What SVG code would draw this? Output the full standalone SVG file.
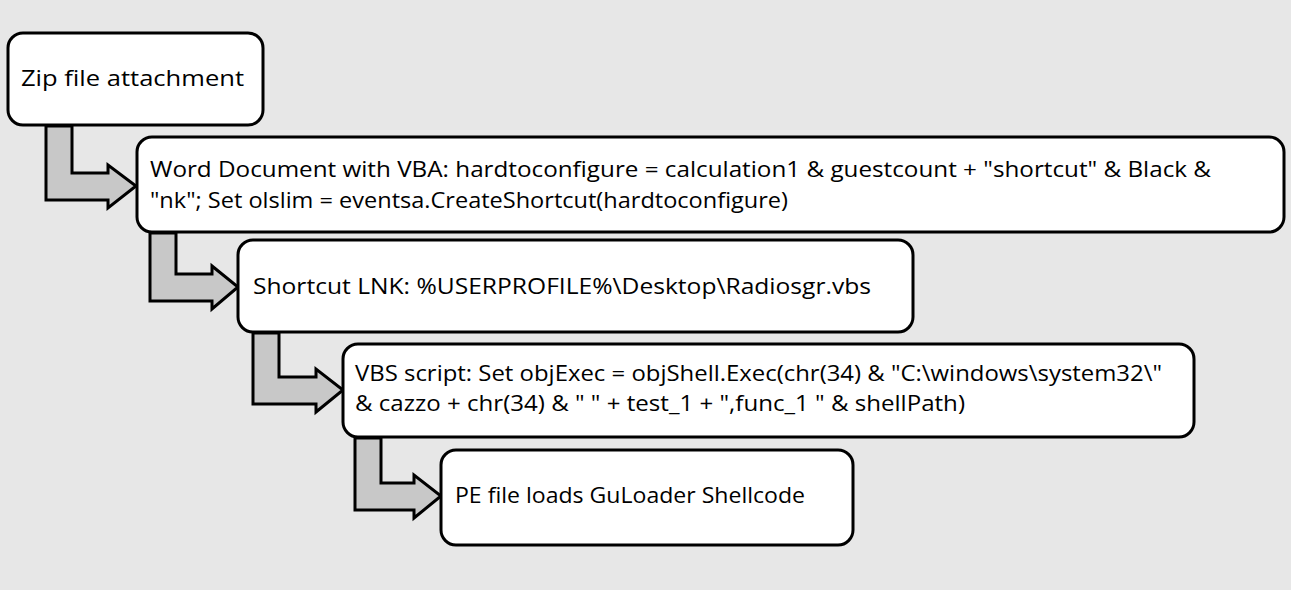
<svg xmlns="http://www.w3.org/2000/svg" width="1291" height="590" viewBox="0 0 1291 590">
<style>
.box{fill:#fff;stroke:#000;stroke-width:3}
.arr{fill:#c8c8c8;stroke:#000;stroke-width:3;stroke-linejoin:miter}
text{font-family:"Open Sans","Liberation Sans",sans-serif;font-size:22.5px;fill:#000}
.s{font-size:21px}
</style>
<rect width="1291" height="590" fill="#e7e7e7"/>
<g id="connectors">
<path class="arr" d="M46 126 H72 V173 H108 V165 L136 186 L108 208 V200 H46 Z"/>
<path class="arr" d="M150 233 H176 V274 H212 V266 L238 287 L212 309 V301 H150 Z"/>
<path class="arr" d="M253 333 H279 V377 H316 V369 L343 390 L316 412 V404 H253 Z"/>
<path class="arr" d="M355 438 H381 V483 H414 V475 L441 496 L414 518 V510 H355 Z"/>
</g>
<g id="n1"><rect class="box" x="8" y="33" width="255" height="92" rx="15"/><text x="21" y="86" textLength="223" lengthAdjust="spacingAndGlyphs">Zip file attachment</text></g>
<g id="n2"><rect class="box" x="137" y="137" width="1147" height="95" rx="15"/>
<text x="150" y="177" textLength="1061" lengthAdjust="spacingAndGlyphs">Word Document with VBA: hardtoconfigure = calculation1 &amp; guestcount + "shortcut" &amp; Black &amp;</text>
<text x="150" y="208" textLength="638" lengthAdjust="spacingAndGlyphs">"nk"; Set olslim = eventsa.CreateShortcut(hardtoconfigure)</text></g>
<g id="n3"><rect class="box" x="238" y="240" width="675" height="92" rx="15"/><text x="253" y="294" textLength="618" lengthAdjust="spacingAndGlyphs">Shortcut LNK: %USERPROFILE%\Desktop\Radiosgr.vbs</text></g>
<g id="n4"><rect class="box" x="343" y="344" width="851" height="93" rx="15"/>
<text class="s" x="355" y="381" textLength="807" lengthAdjust="spacingAndGlyphs">VBS script: Set objExec = objShell.Exec(chr(34) &amp; "C:\windows\system32\"</text>
<text class="s" x="355" y="411" textLength="610" lengthAdjust="spacingAndGlyphs">&amp; cazzo + chr(34) &amp; " " + test_1 + ",func_1 " &amp; shellPath)</text></g>
<g id="n5"><rect class="box" x="441" y="450" width="412" height="95" rx="15"/><text x="455" y="503" textLength="350" lengthAdjust="spacingAndGlyphs">PE file loads GuLoader Shellcode</text></g>
</svg>
